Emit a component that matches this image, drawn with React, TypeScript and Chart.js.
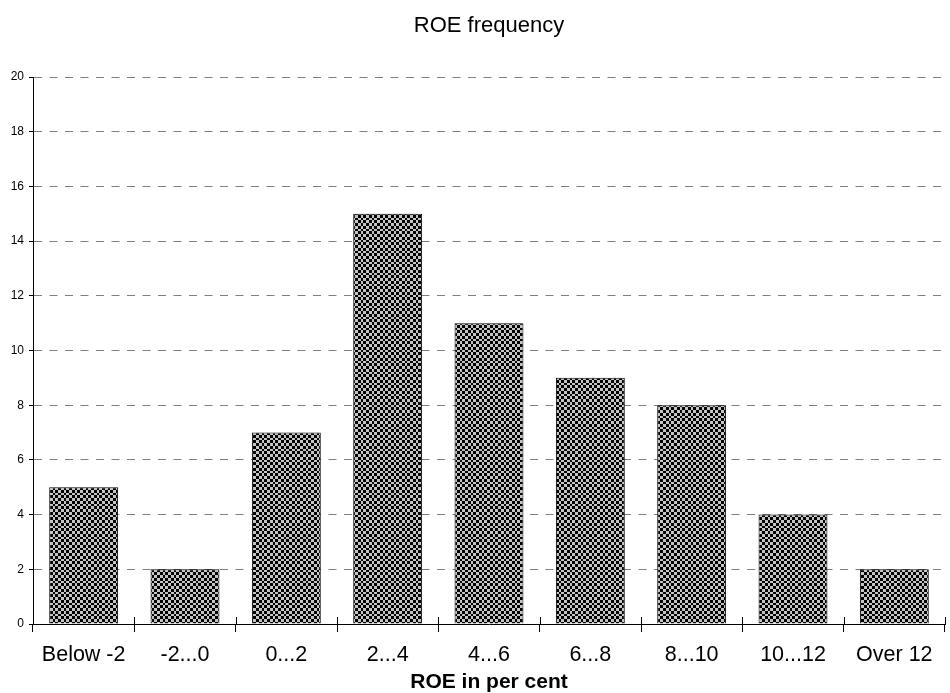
import React, { useEffect, useRef } from "react";
import { Chart, registerables } from "chart.js";

Chart.register(...registerables);

const categories = ["Below -2", "-2...0", "0...2", "2...4", "4...6", "6...8", "8...10", "10...12", "Over 12"];
const frequencies = [5, 2, 7, 15, 11, 9, 8, 4, 2];
const chartTitle = "ROE frequency";
const xAxisTitle = "ROE in per cent";
const yMin = 0;
const yMax = 20;
const yStep = 2;

const FONT = "'Liberation Sans', Arial, sans-serif";

function makePattern(): CanvasPattern | string {
  const cells = [0, 3, 6, 9, 11];
  const c = document.createElement("canvas");
  c.width = 11;
  c.height = 11;
  const g = c.getContext("2d");
  if (!g) return "#777";
  for (let i = 0; i < 4; i++) {
    for (let j = 0; j < 4; j++) {
      g.fillStyle = (i + j) % 2 === 0 ? "#000000" : "#c4c4c4";
      g.fillRect(cells[i], cells[j], cells[i + 1] - cells[i], cells[j + 1] - cells[j]);
    }
  }
  const p = g.createPattern(c, "repeat");
  return p || "#777";
}

const crossTicks = {
  id: "crossTicks",
  afterDraw(chart: any) {
    const xs = chart.scales.x;
    const ctx = chart.ctx;
    const n = xs.ticks.length;
    const w = (xs.right - xs.left) / n;
    ctx.save();
    ctx.strokeStyle = "#000";
    ctx.lineWidth = 1;
    ctx.beginPath();
    for (let i = 0; i <= n; i++) {
      const x = Math.round(xs.left + i * w) + 0.5;
      ctx.moveTo(x, xs.top - 7);
      ctx.lineTo(x, xs.top);
    }
    ctx.stroke();
    ctx.restore();
  },
};

export default function App() {
  const ref = useRef<HTMLCanvasElement | null>(null);

  useEffect(() => {
    if (!ref.current) return;
    Chart.defaults.color = "#000";
    const chart = new Chart(ref.current, {
      type: "bar",
      data: {
        labels: categories,
        datasets: [
          {
            data: frequencies,
            backgroundColor: makePattern() as any,
            borderColor: "#000",
            borderWidth: 1,
            barPercentage: 0.68,
            categoryPercentage: 1,
          },
        ],
      },
      options: {
        animation: false,
        responsive: false,
        maintainAspectRatio: false,
        layout: { padding: { left: 0, right: 5, top: 0, bottom: 0 } },
        plugins: {
          legend: { display: false },
          tooltip: { enabled: false },
          title: {
            display: true,
            text: chartTitle,
            fullSize: false,
            color: "#000",
            font: { family: FONT, size: 22, weight: "normal", lineHeight: 1.2 },
            padding: { top: 13, bottom: 37.6 },
          },
        },
        scales: {
          x: {
            offset: true,
            afterFit: (s: any) => {
              s.height = 69;
            },
            grid: {
              offset: true,
              drawOnChartArea: false,
              drawTicks: true,
              tickLength: 8,
              tickColor: "#000",
              color: "#000",
            },
            border: { display: true, color: "#000", width: 1 },
            ticks: {
              color: "#000",
              padding: 10,
              maxRotation: 0,
              autoSkip: false,
              font: { family: FONT, size: 21.5, lineHeight: 1.2 },
            },
            title: {
              display: true,
              text: xAxisTitle,
              color: "#000",
              font: { family: FONT, size: 21, weight: "bold", lineHeight: 1.0 },
              padding: { top: 0, bottom: 0 },
            },
          },
          y: {
            min: yMin,
            max: yMax,
            afterFit: (s: any) => {
              s.width = 33;
            },
            grid: {
              color: (c: any) => (c.tick && c.tick.value === 0 ? "rgba(0,0,0,0)" : "#808080"),
              lineWidth: 1,
              drawTicks: true,
              tickLength: 4,
              tickColor: "#000",
              tickBorderDash: [],
            },
            border: { display: true, color: "#000", width: 1, dash: [8, 7.5] },
            ticks: {
              stepSize: yStep,
              color: "#000",
              padding: 5,
              font: { family: FONT, size: 12 },
            },
          },
        },
      },
      plugins: [crossTicks],
    });
    return () => chart.destroy();
  }, []);

  return (
    <div style={{ position: "absolute", left: 0, top: 0, width: 950, height: 693, background: "#fff" }}>
      <canvas ref={ref} width={950} height={693} />
    </div>
  );
}
